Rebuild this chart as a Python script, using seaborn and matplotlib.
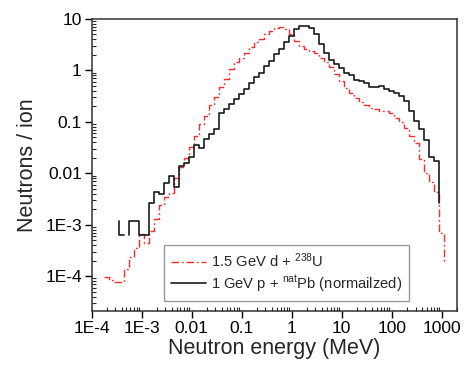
import numpy as np
import pandas as pd
import matplotlib
matplotlib.use("Agg")
import matplotlib.pyplot as plt
import seaborn as sns
from matplotlib.ticker import LogLocator, NullFormatter


# log10(E / MeV) histogram bins, 0.1 decade wide

BIN_WIDTH = 0.1

RED_FIRST_EDGE = -3.76
BLACK_FIRST_EDGE = -3.46

# 1.5 GeV d + 238U  (neutrons / ion per bin)
red_vals = [
    9.5e-5, 8.5e-5, 7.7e-5, 7.7e-5,
    1.4e-4, 2.4e-4, 3.6e-4, 6.5e-4, 4.4e-4, 7.5e-4, 1.3e-3, 2.4e-3,
    3.4e-3, 4.1e-3, 8e-3, 0.013, 0.02, 0.033,
    0.052, 0.089, 0.13, 0.21, 0.30, 0.47, 0.67, 1.05, 1.43, 1.78,
    2.2, 2.8, 3.5, 4.1, 5.1, 5.9,
    6.6, 6.9, 6.4, 5.1, 3.8, 3.0, 2.6, 2.4, 2.2, 1.78, 1.45, 1.15,
    0.84, 0.62, 0.46, 0.37, 0.29, 0.24, 0.21, 0.19, 0.175, 0.165,
    0.16, 0.15, 0.12, 0.098, 0.077, 0.052, 0.039, 0.019, 0.010,
    0.0069, 0.0044, 7e-4,
]
red_leads = [None]
red_tail = 1.9e-4

# 1 GeV p + natPb (normalized)
black_vals = [
    6.4e-4, np.nan, 1.2e-3, 1.2e-3, 6.4e-4, 6.4e-4, 2.6e-3, 4.3e-3,
    3.9e-3, 6.6e-3, 8.7e-3, 5.3e-3, 0.014, 0.016, 0.021, 0.036,
    0.031, 0.046, 0.057, 0.071, 0.151, 0.175, 0.22, 0.274, 0.343,
    0.43, 0.58, 0.73, 0.91, 1.22, 1.53, 2.07, 2.6, 3.5, 4.7, 6.4,
    7.4, 7.4, 6.6, 5.1, 3.2, 2.2, 1.6, 1.32, 1.09, 0.91, 0.81, 0.65,
    0.61, 0.58, 0.48, 0.48, 0.50, 0.43, 0.40, 0.37, 0.32, 0.25,
    0.16, 0.103, 0.071, 0.045, 0.021, 0.017,
]
black_leads = [1.2e-3, 6.4e-4]
black_tail = 2.6e-3

series_names = [
    "1.5 GeV d + $^{238}$U",
    "1 GeV p + $^{\\mathrm{nat}}$Pb (normailzed)",
]

x_ticks = [1e-4, 1e-3, 0.01, 0.1, 1, 10, 100, 1000]
x_tick_labels = ["1E-4", "1E-3", "0.01", "0.1", "1", "10", "100", "1000"]
y_ticks = [1e-4, 1e-3, 0.01, 0.1, 1, 10]
y_tick_labels = ["1E-4", "1E-3", "0.01", "0.1", "1", "10"]


def step_rows(name, first_edge, vals, leads, tail):
    # turn bin values into steps-post points, one unit per unbroken piece
    rows = []
    seg = 0
    lead_i = 0
    prev = np.nan
    for k, v in enumerate(vals):
        left = 10 ** (first_edge + BIN_WIDTH * k)
        if np.isnan(v):
            if not np.isnan(prev):
                rows.append((name, seg, left, prev))
            prev = v
            continue
        if np.isnan(prev):
            seg += 1
            if lead_i < len(leads) and leads[lead_i] is not None:
                rows.append((name, seg, left, leads[lead_i]))
            lead_i += 1
        rows.append((name, seg, left, v))
        prev = v
    right = 10 ** (first_edge + BIN_WIDTH * len(vals))
    rows.append((name, seg, right, tail))
    return rows


df_red = pd.DataFrame(
    step_rows(series_names[0], RED_FIRST_EDGE, red_vals, red_leads, red_tail),
    columns=["series", "seg", "energy", "flux"]
)
df_black = pd.DataFrame(
    step_rows(series_names[1], BLACK_FIRST_EDGE, black_vals, black_leads, black_tail),
    columns=["series", "seg", "energy", "flux"]
)


sns.set_style("ticks")
plt.rcParams["font.family"] = ["Liberation Sans", "DejaVu Sans"]
plt.rcParams["mathtext.fontset"] = "custom"
plt.rcParams["mathtext.rm"] = "Liberation Sans"
plt.rcParams["mathtext.it"] = "Liberation Sans:italic"

fig = plt.figure(figsize=(4.67, 3.65), dpi=100)
ax = fig.add_axes([0.196, 0.148, 0.782, 0.800])

sns.lineplot(
    data=df_red, x="energy", y="flux", units="seg",
    estimator=None, sort=False, drawstyle="steps-post",
    color="#ff2a2a", linewidth=1.0,
    linestyle=(0, (5.5, 2, 1.3, 2)), ax=ax
)
n_red = len(ax.lines)

sns.lineplot(
    data=df_black, x="energy", y="flux", units="seg",
    estimator=None, sort=False, drawstyle="steps-post",
    color="#1a1a1a", linewidth=1.2, ax=ax
)

ax.set_xscale("log")
ax.set_yscale("log")
ax.set_xlim(1e-4, 2000)
ax.set_ylim(2.1e-5, 10)

ax.set_xticks(x_ticks)
ax.set_xticklabels(x_tick_labels)
ax.set_yticks(y_ticks)
ax.set_yticklabels(y_tick_labels)

ax.xaxis.set_minor_locator(LogLocator(base=10, subs=np.arange(2, 10), numticks=50))
ax.yaxis.set_minor_locator(LogLocator(base=10, subs=np.arange(2, 10), numticks=50))
ax.xaxis.set_minor_formatter(NullFormatter())
ax.yaxis.set_minor_formatter(NullFormatter())

ax.tick_params(which="major", direction="out", length=5, width=1,
               labelsize=12.5, colors="black", pad=2)
ax.tick_params(which="minor", direction="in", length=3, width=0.8)

for spine in ax.spines.values():
    spine.set_linewidth(1.1)
    spine.set_color("#333333")

ax.set_xlabel("Neutron energy (MeV)", fontsize=15.5, labelpad=2)
ax.set_ylabel("Neutrons / ion", fontsize=15.5, labelpad=5)

handles = [ax.lines[0], ax.lines[n_red]]
leg = ax.legend(
    handles, series_names,
    loc="lower left", bbox_to_anchor=(0.199, 0.035),
    borderaxespad=0, fontsize=10.6, frameon=True, fancybox=False,
    framealpha=1, edgecolor="#999999", handlelength=2.4,
    handletextpad=0.35, labelspacing=0.25, borderpad=0.45
)
leg.get_frame().set_linewidth(1.0)

plt.savefig("out.png", dpi=100)
plt.close()
